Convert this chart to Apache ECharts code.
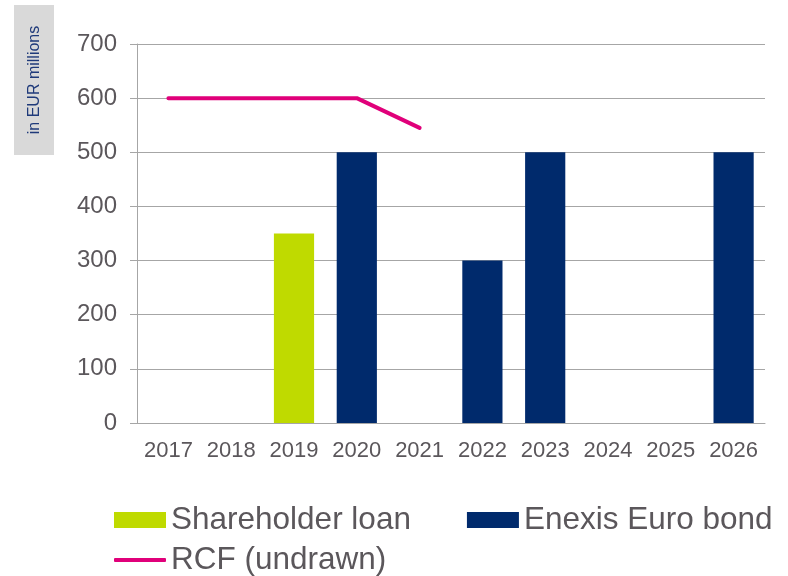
<!DOCTYPE html>
<html>
<head>
<meta charset="utf-8">
<script src="https://cdn.jsdelivr.net/npm/echarts@6/dist/echarts.min.js"></script>
<style>html,body{margin:0;padding:0;background:#fff}#c{width:788px;height:576px}</style>
</head>
<body>
<div id="c"></div>
<script>
const years = ['2017','2018','2019','2020','2021','2022','2023','2024','2025','2026'];
const shareholderLoan = [null, null, 350, null, null, null, null, null, null, null];
const euroBond = [null, null, null, 500, null, 300, 500, null, null, 500];
const rcfUndrawn = [600, 600, 600, 600, 545, null, null, null, null, null];
const yTicks = [0, 100, 200, 300, 400, 500, 600, 700];

const GREEN = '#bfda00', NAVY = '#002a6c', PINK = '#e0007a';
const TXT = '#5b575b', AX = '#a6a6a6';
const chart = echarts.init(document.getElementById('c'));
chart.setOption({
  animation: false,
  textStyle: { fontFamily: 'Liberation Sans, Arial, sans-serif' },
  grid: { left: 137, right: 23, top: 44, bottom: 153 },
  graphic: [
    { type: 'rect', shape: { x: 14, y: 5, width: 40, height: 150 }, style: { fill: '#d9d9d9' } },
    { type: 'text', x: 35, y: 80, rotation: Math.PI / 2,
      style: { text: 'in EUR millions', fill: '#1f3a7a', font: '16px "Liberation Sans", Arial, sans-serif', align: 'center', verticalAlign: 'middle' } }
  ],
  legend: [
    { left: 114, top: 504, padding: 0, itemWidth: 52, itemHeight: 16, itemGap: 56,
      textStyle: { fontSize: 31.5, color: TXT },
      data: [{ name: 'Shareholder loan', icon: 'rect' }, { name: 'Enexis Euro bond', icon: 'rect' }] },
    { left: 114, top: 544, padding: 0, itemWidth: 52, itemHeight: 4, itemGap: 56,
      textStyle: { fontSize: 31.5, color: TXT },
      data: [{ name: 'RCF (undrawn)', icon: 'roundRect' }] }
  ],
  xAxis: {
    type: 'category', data: years, boundaryGap: true,
    axisLine: { lineStyle: { color: AX, width: 1 } },
    axisTick: { show: false },
    axisLabel: { fontSize: 22, color: TXT, margin: 17, interval: 0 }
  },
  yAxis: {
    type: 'value', min: 0, max: 700, interval: 100,
    axisLine: { show: true, lineStyle: { color: AX, width: 1 } },
    axisTick: { show: true, length: 7, lineStyle: { color: AX } },
    splitLine: { lineStyle: { color: AX, width: 1 } },
    axisLabel: { fontSize: 24, color: TXT, margin: 20,
      formatter: v => yTicks.includes(v) ? String(v) : '' }
  },
  series: [
    { name: 'Shareholder loan', type: 'bar', stack: 'a', barWidth: '64%', data: shareholderLoan, itemStyle: { color: GREEN } },
    { name: 'Enexis Euro bond', type: 'bar', stack: 'a', barWidth: '64%', data: euroBond, itemStyle: { color: NAVY } },
    { name: 'RCF (undrawn)', type: 'line', data: rcfUndrawn, showSymbol: false, symbol: 'none',
      lineStyle: { color: PINK, width: 4, cap: 'round', join: 'round' }, itemStyle: { color: PINK } }
  ]
});
</script>
</body>
</html>
